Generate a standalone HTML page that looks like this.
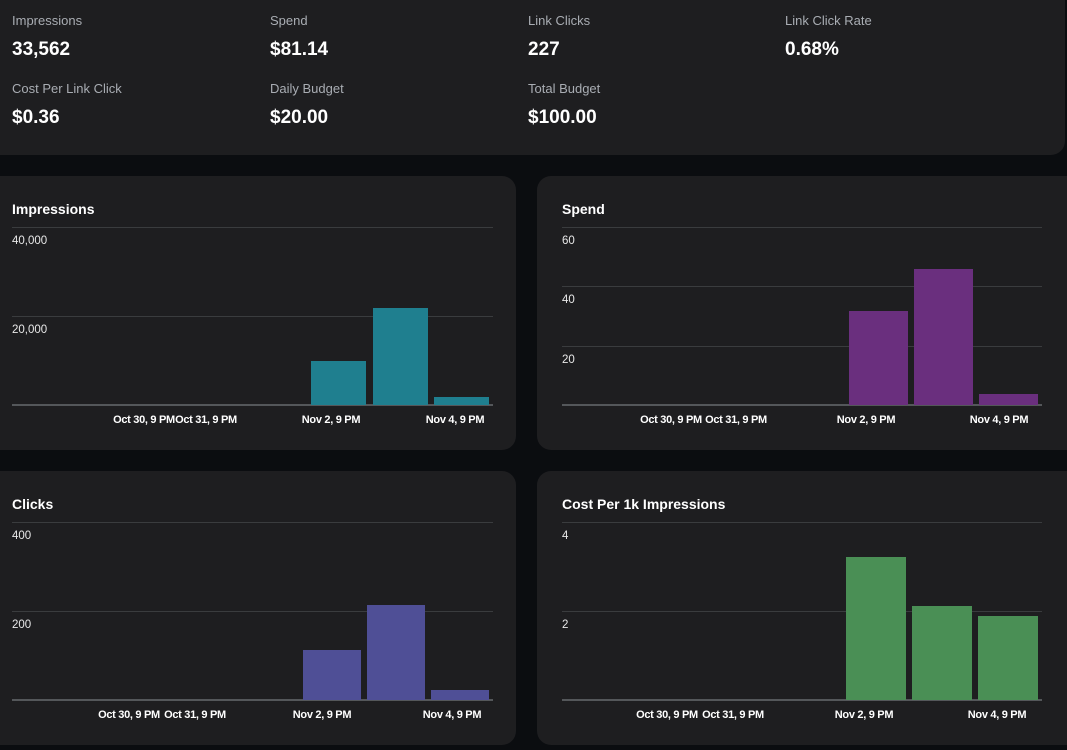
<!DOCTYPE html>
<html><head><style>
html,body{margin:0;padding:0;background:#0b0d10;width:1067px;height:750px;overflow:hidden;font-family:"Liberation Sans",sans-serif;}
svg{display:block}
</style></head><body>
<svg width="1067" height="750" xmlns="http://www.w3.org/2000/svg" font-family="Liberation Sans, sans-serif">
<rect width="1067" height="750" fill="#0b0d10"/>
<!-- top card -->
<rect x="-20" y="-20" width="1085" height="175" rx="14" fill="#1e1e20"/>
<g fill="#a9adb3" font-size="13">
<text x="12" y="25">Impressions</text><text x="270" y="25">Spend</text><text x="528" y="25">Link Clicks</text><text x="785" y="25">Link Click Rate</text>
<text x="12" y="93">Cost Per Link Click</text><text x="270" y="93">Daily Budget</text><text x="528" y="93">Total Budget</text>
</g>
<g fill="#ffffff" font-size="19" font-weight="bold">
<text x="12" y="55">33,562</text><text x="270" y="55">$81.14</text><text x="528" y="55">227</text><text x="785" y="55">0.68%</text>
<text x="12" y="123">$0.36</text><text x="270" y="123">$20.00</text><text x="528" y="123">$100.00</text>
</g>
<!-- cards -->
<rect x="-20" y="176" width="536" height="274" rx="14" fill="#1e1e20"/>
<rect x="537" y="176" width="545" height="274" rx="14" fill="#1e1e20"/>
<rect x="-20" y="471" width="536" height="274" rx="14" fill="#1e1e20"/>
<rect x="537" y="471" width="545" height="274" rx="14" fill="#1e1e20"/>
<g fill="#fff" font-size="14" font-weight="bold">
<text x="12" y="214">Impressions</text><text x="562" y="214">Spend</text>
<text x="12" y="509">Clicks</text><text x="562" y="509">Cost Per 1k Impressions</text>
</g>
<g stroke="#3a3c3e" stroke-width="1">
<line x1="12" y1="227.5" x2="493" y2="227.5"/><line x1="12" y1="316.5" x2="493" y2="316.5"/>
<line x1="562" y1="227.5" x2="1042" y2="227.5"/><line x1="562" y1="286.5" x2="1042" y2="286.5"/><line x1="562" y1="346.5" x2="1042" y2="346.5"/>
<line x1="12" y1="522.5" x2="493" y2="522.5"/><line x1="12" y1="611.5" x2="493" y2="611.5"/>
<line x1="562" y1="522.5" x2="1042" y2="522.5"/><line x1="562" y1="611.5" x2="1042" y2="611.5"/>
</g>
<g stroke="#54575a" stroke-width="2">
<line x1="12" y1="405" x2="493" y2="405"/><line x1="562" y1="405" x2="1042" y2="405"/>
<line x1="12" y1="700" x2="493" y2="700"/><line x1="562" y1="700" x2="1042" y2="700"/>
</g>
<g fill="#e8e8e8" font-size="11.5">
<text x="12" y="244">40,000</text><text x="12" y="333">20,000</text>
<text x="562" y="244">60</text><text x="562" y="303">40</text><text x="562" y="363">20</text>
<text x="12" y="539">400</text><text x="12" y="628">200</text>
<text x="562" y="539">4</text><text x="562" y="628">2</text>
</g>
<!-- bars -->
<g fill="#1f7f8f"><rect x="311" y="361" width="55" height="44"/><rect x="373" y="308" width="55" height="97"/><rect x="434" y="397" width="55" height="8"/></g>
<g fill="#6a2f7e"><rect x="849" y="311" width="59" height="94"/><rect x="914" y="269" width="59" height="136"/><rect x="979" y="394" width="59" height="11"/></g>
<g fill="#4f4f96"><rect x="303" y="650" width="58" height="50"/><rect x="367" y="605" width="58" height="95"/><rect x="431" y="690" width="58" height="10"/></g>
<g fill="#4a8f55"><rect x="846" y="557" width="60" height="143"/><rect x="912" y="606" width="60" height="94"/><rect x="978" y="616" width="60" height="84"/></g>
<g fill="#fff" font-size="11" font-weight="bold" text-anchor="middle" letter-spacing="-0.3">
<text x="144" y="423">Oct 30, 9 PM</text><text x="206" y="423">Oct 31, 9 PM</text><text x="331" y="423">Nov 2, 9 PM</text><text x="455" y="423">Nov 4, 9 PM</text>
<text x="671" y="423">Oct 30, 9 PM</text><text x="736" y="423">Oct 31, 9 PM</text><text x="866" y="423">Nov 2, 9 PM</text><text x="999" y="423">Nov 4, 9 PM</text>
<text x="129" y="718">Oct 30, 9 PM</text><text x="195" y="718">Oct 31, 9 PM</text><text x="322" y="718">Nov 2, 9 PM</text><text x="452" y="718">Nov 4, 9 PM</text>
<text x="667" y="718">Oct 30, 9 PM</text><text x="733" y="718">Oct 31, 9 PM</text><text x="864" y="718">Nov 2, 9 PM</text><text x="997" y="718">Nov 4, 9 PM</text>
</g>
</svg>
</body></html>
